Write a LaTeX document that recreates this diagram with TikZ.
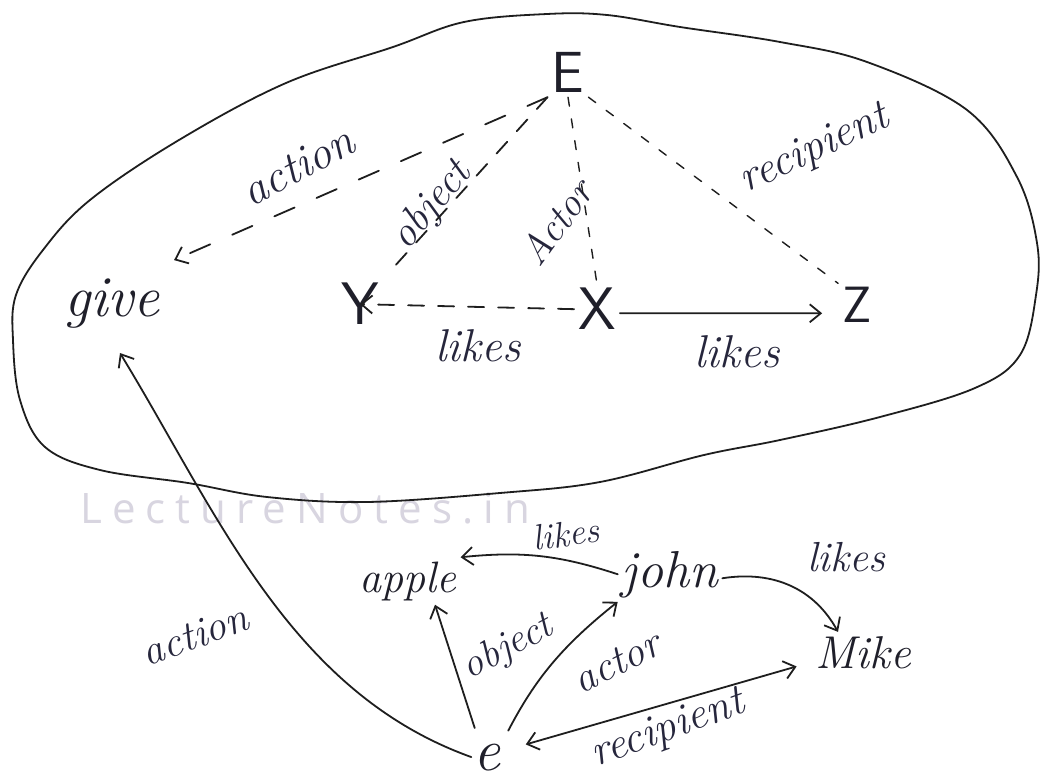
\documentclass[tikz,border=0pt]{standalone}
\usepackage{fontspec}
\newfontfamily\wmfont{Open Sans}[LetterSpace=24]
\usetikzlibrary{arrows.meta,calc}
\definecolor{inkc}{HTML}{1E1E1E}
\definecolor{txtc}{HTML}{1F1F2A}
\definecolor{labc}{HTML}{26263C}
\definecolor{wmc}{HTML}{D8D5E0}
\newcommand{\myhw}[1]{\fontsize{#1}{#1}\selectfont\itshape}
\newcommand{\mycap}[1]{\fontsize{#1}{#1}\selectfont\sffamily}
\tikzset{
  ink/.style={draw=inkc, line width=1.8pt, line cap=round},
  arr/.style={ink, -{Straight Barb[length=11pt,width=18pt]}},
  darr/.style={ink, {Straight Barb[length=11pt,width=18pt]}-{Straight Barb[length=11pt,width=18pt]}},
  longdash/.style={ink, dash pattern=on 22pt off 24pt},
  middash/.style={ink, dash pattern=on 16pt off 14pt},
  shortdash/.style={ink, line width=1.4pt, dash pattern=on 9pt off 13pt},
  capnode/.style={text=txtc, inner sep=4pt, anchor=base},
  wordnode/.style={text=txtc, inner sep=4pt, anchor=base},
  lab/.style={text=labc, inner sep=1pt},
}
\begin{document}
\begin{tikzpicture}[x=1pt,y=-1pt]
\fill[white] (0,0) rectangle (1041,783);
\useasboundingbox (0,0) rectangle (1041,783);

% watermark
\node[anchor=west, text=wmc, font=\fontsize{42}{42}\selectfont\wmfont, inner sep=0pt] (wm) at (80,508) {LectureNotes.in};

% outer closed curve
\draw[ink] plot[smooth cycle, tension=0.6] coordinates {(547,14) (607,15) (680,27) (780,42) (867,62) (967,110) (1017,177) (1037,243) (1036,295) (1020,355) (975,388) (880,417) (780,440) (704,455) (600,482) (500,493) (367,502) (267,497) (188,483) (100,470) (45,447) (20,400) (13,340) (16,295) (43,250) (90,200) (179,140) (286,83) (393,47) (464,22)};

% main nodes (upper)
\node[capnode, font=\mycap{58}] (E) at (568,93) {E};
\node[capnode, font=\mycap{60}] (X) at (597,330) {X};
\node[capnode, font=\mycap{60}] (Y) at (360,325) {Y};
\node[capnode, font=\mycap{51}] (Z) at (857,323) {Z};
\node[wordnode, font=\myhw{58}] (give) at (112,317) {give};

% main nodes (lower)
\node[wordnode, font=\myhw{44}] (apple) at (408,592) {apple};
\node[wordnode, font=\myhw{52}] (john) at (670,587) {john};
\node[wordnode, font=\myhw{46}] (Mike) at (863,668) {Mike};
\node[wordnode, font=\myhw{60}, inner sep=2pt] (e) at (487,770) {e};

% labels
\node[lab, font=\myhw{46}, rotate=28] (lAction) at (298,166) {action};
\node[lab, font=\myhw{42}, rotate=50] (lObject) at (432,206) {object};
\node[lab, font=\myhw{40}, rotate=54] (lActor) at (556,222) {Actor};
\node[lab, font=\myhw{44}, rotate=25] (lRecip) at (815,150) {recipient};
\node[lab, font=\myhw{46}] (lLikesA) at (478,346) {likes};
\node[lab, font=\myhw{46}] (lLikesB) at (737,352) {likes};
\node[lab, font=\myhw{36}, rotate=8] (lLikesC) at (566,534) {likes};
\node[lab, font=\myhw{42}] (lLikesD) at (846,557) {likes};
\node[lab, font=\myhw{40}, rotate=28] (lObj2) at (508,648) {object};
\node[lab, font=\myhw{42}, rotate=27] (lAct2) at (617,662) {actor};
\node[lab, font=\myhw{44}, rotate=20] (lRec2) at (668,730) {recipient};
\node[lab, font=\myhw{42}, rotate=20] (lAct3) at (195,635) {action};

% upper connectors
\draw[longdash, -{Straight Barb[length=11pt,width=18pt]}] (E.south west) -- ([shift={(10,-15)}]give.north east);
\draw[middash, shorten >=8pt] (E.south west) -- (Y.north east);
\draw[shortdash] (E.south) -- (X.north);
\draw[shortdash] (E.south east) -- (Z.north west);
\draw[middash, -{Straight Barb[length=11pt,width=18pt]}] (X.west) -- (Y.center);
\draw[arr, shorten >=16pt] ([yshift=-4pt]X.east) -- ([yshift=-8pt]Z.west);

% lower connectors
\draw[arr] (e.west) .. controls (290,692) and (218,514) .. ([shift={(8,20)}]give.south);
\draw[arr, shorten <=14pt] ([xshift=-8pt]e.north) -- ([xshift=27pt]apple.south);
\draw[arr, shorten <=12pt] (e.north east) to[bend left=12] (john.south west);
\draw[arr] (john.west) to[bend right=12] (apple.north east);
\draw[arr] ([yshift=-4pt]john.east) .. controls (775,570) and (815,590) .. ([xshift=-25pt]Mike.north);
\draw[darr, shorten <=24pt, shorten >=15pt] ([yshift=6pt]e.east) -- ([yshift=-10pt]Mike.west);
\end{tikzpicture}
\end{document}
